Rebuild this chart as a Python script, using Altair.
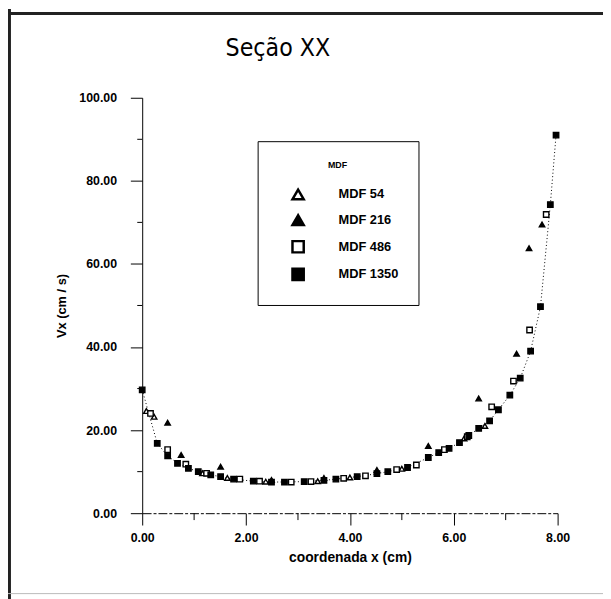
import altair as alt
import pandas as pd

series_order = ["MDF 54", "MDF 216", "MDF 486", "MDF 1350"]

# MDF 1350 (filled squares + dotted line)
x_1350 = [0.00, 0.29, 0.49, 0.68, 0.89, 1.08, 1.32, 1.51, 1.76, 2.14, 2.49, 2.74, 3.12, 3.50,
          3.73, 4.14, 4.52, 4.73, 5.11, 5.51, 5.71, 5.91, 6.11, 6.29, 6.48, 6.69, 6.86, 7.08,
          7.28, 7.48, 7.67, 7.86, 7.97]
v_1350 = [29.7, 16.8, 13.8, 12.0, 10.8, 10.0, 9.2, 8.8, 8.2, 7.7, 7.5, 7.5, 7.6, 7.9,
          8.2, 8.8, 9.5, 10.0, 11.0, 13.4, 14.6, 15.6, 17.0, 18.7, 20.4, 22.2, 24.9, 28.4,
          32.5, 39.0, 49.7, 74.3, 91.0]

# MDF 486 (open squares)
x_486 = [0.16, 0.49, 0.84, 1.24, 1.88, 2.26, 2.87, 3.25, 3.88, 4.30, 4.90, 5.28, 5.82, 6.26,
         6.73, 7.15, 7.46, 7.78]
v_486 = [24.0, 15.3, 11.8, 9.6, 8.2, 7.7, 7.5, 7.6, 8.4, 9.0, 10.5, 11.6, 15.3, 18.4,
         25.6, 31.8, 44.1, 71.9]

# MDF 216 (filled triangles)
x_216 = [0.49, 0.75, 1.51, 2.49, 3.50, 4.52, 5.51, 6.48, 7.21, 7.45, 7.70]
v_216 = [21.8, 14.0, 11.2, 8.0, 8.5, 10.4, 16.2, 27.6, 38.4, 63.8, 69.5]

# MDF 54 (open triangles)
x_54 = [0.08, 0.23, 1.16, 1.64, 2.38, 3.38, 4.00, 5.00, 6.20, 6.60]
v_54 = [24.6, 23.2, 9.6, 8.5, 7.6, 7.7, 8.6, 10.7, 18.0, 21.0]

x_ticks = [0, 2, 4, 6, 8]
y_ticks = [0, 20, 40, 60, 80, 100]
x_minor = [1, 3, 5, 7]
y_minor = [10, 30, 50, 70, 90]

title_text = "Seção XX"

rows = []
for name, xs_, vs_ in [("MDF 54", x_54, v_54), ("MDF 216", x_216, v_216),
                       ("MDF 486", x_486, v_486), ("MDF 1350", x_1350, v_1350)]:
    for a, b in zip(xs_, vs_):
        rows.append({"serie": name, "x": a, "v": b})
df = pd.DataFrame(rows)
df_line = df[df.serie == "MDF 1350"]

W = H = 421
FONT = "Liberation Sans"
xs = alt.Scale(domain=[0, 8], nice=False, zero=False)
ys = alt.Scale(domain=[0, 100], nice=False)

legend = alt.Legend(
    title="MDF", orient="none", legendX=117, legendY=44,
    strokeColor="black", fillColor="white", padding=20,
    symbolOffset=14, symbolSize=130, symbolStrokeWidth=2.5, symbolStrokeColor="black",
    labelFont=FONT, labelFontSize=13, labelFontWeight="bold", labelColor="black",
    labelOffset=34, rowPadding=6, titlePadding=18,
    titleFont=FONT, titleFontSize=9, titleFontWeight="bold", titleColor="black",
    titleAnchor="middle",
)

x_axis = alt.Axis(values=x_ticks, format=".2f", title="coordenada x (cm)", tickSize=12,
                  labelPadding=7, titlePadding=6, grid=False, labelFlush=False,
                  labelOverlap=False, domainDash=[9, 2, 3, 2], titleFontSize=14)
y_axis = alt.Axis(values=y_ticks, format=".2f", title="Vx (cm / s)", tickSize=12,
                  labelPadding=14, titlePadding=10, grid=False, labelOverlap=False,
                  titleFontSize=13)

points = alt.Chart(df).mark_point(filled=True, size=30, strokeWidth=1.4,
                                  opacity=1).encode(
    x=alt.X("x:Q", scale=xs, axis=x_axis),
    y=alt.Y("v:Q", scale=ys, axis=y_axis),
    shape=alt.Shape("serie:N", scale=alt.Scale(domain=series_order,
                    range=["triangle-up", "triangle-up", "square", "square"]), legend=legend),
    fill=alt.Fill("serie:N", scale=alt.Scale(domain=series_order,
                  range=["white", "black", "white", "black"]), legend=legend),
    stroke=alt.Stroke("serie:N", scale=alt.Scale(domain=series_order,
                      range=["black", "black", "black", "black"]), legend=legend),
)

line = alt.Chart(df_line).mark_line(color="black", strokeWidth=1, strokeDash=[1, 2.5]).encode(
    x=alt.X("x:Q", scale=xs), y=alt.Y("v:Q", scale=ys), order="x:Q")

minor_y = alt.Chart(pd.DataFrame({"v": y_minor})).mark_rule(color="black", strokeWidth=1).encode(
    y=alt.Y("v:Q", scale=ys), x=alt.value(0), x2=alt.value(-5))
minor_x = alt.Chart(pd.DataFrame({"x": x_minor})).mark_rule(color="black", strokeWidth=1).encode(
    x=alt.X("x:Q", scale=xs), y=alt.value(H), y2=alt.value(H + 7))

one = pd.DataFrame({"a": [0]})
frame_left = alt.Chart(one).mark_rule(color="#222", strokeWidth=3).encode(
    x=alt.value(-134.5), y=alt.value(-90), y2=alt.value(510))
frame_top = alt.Chart(one).mark_rule(color="#222", strokeWidth=3).encode(
    y=alt.value(-85.5), x=alt.value(-140), x2=alt.value(480))
frame_bottom = alt.Chart(one).mark_rule(color="#bbb", strokeWidth=1).encode(
    y=alt.value(502.5), x=alt.value(-140), x2=alt.value(480))

title_mark = alt.Chart(one).mark_text(
    text=title_text, fontSize=25, font="Liberation Sans Narrow, DejaVu Sans Condensed, sans-serif",
    fontWeight="normal", align="center", baseline="alphabetic", color="black").encode(
    x=alt.value(137.5), y=alt.value(-42))

chart = alt.layer(frame_left, frame_top, frame_bottom, title_mark, minor_y, minor_x,
                  line, points).properties(
    width=W, height=H,
    background="white",
    autosize=alt.AutoSizeParams(type="none"),
    padding={"left": 136, "top": 87, "right": 46, "bottom": 83},
).configure_view(stroke=None).configure_axis(
    domainColor="black", tickColor="black", labelColor="black", titleColor="black",
    labelFont=FONT, labelFontSize=12.5, labelFontWeight="bold",
    titleFont=FONT, titleFontWeight="bold",
)

chart.save("out.html", embed_options={"renderer": "svg", "actions": False})
